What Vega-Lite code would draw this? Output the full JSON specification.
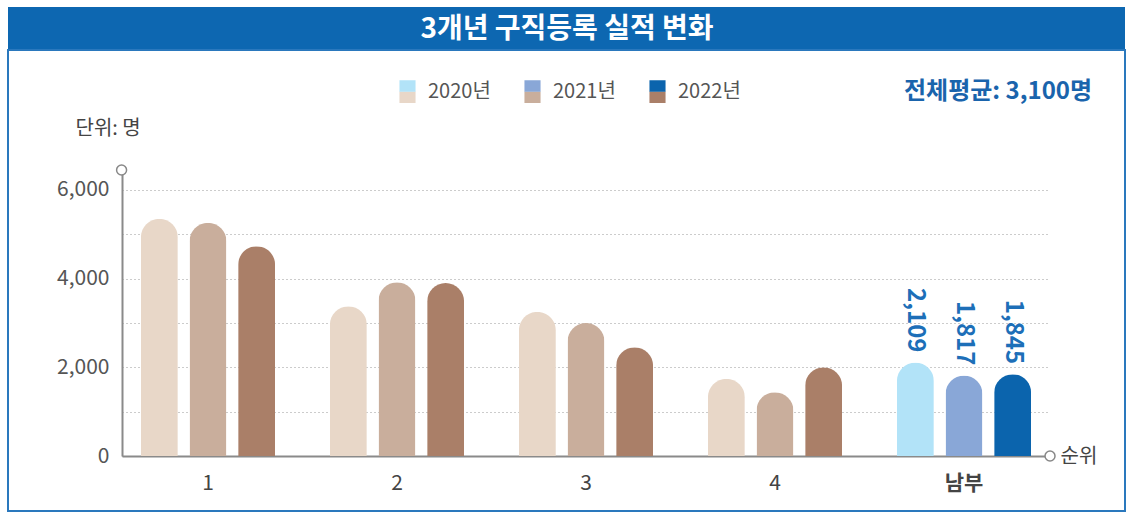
{
  "$schema": "https://vega.github.io/schema/vega-lite/v6.json",
  "autosize": "none",
  "padding": {"left": 122, "top": 170, "right": 77, "bottom": 58},
  "width": 928,
  "height": 286,
  "background": "white",
  "config": {"font": "Noto Sans CJK KR", "view": {"stroke": null}},
  "datasets": {
    "bars": [
      {"region": "1", "year": "2020년", "value": 5350},
      {"region": "1", "year": "2021년", "value": 5260},
      {"region": "1", "year": "2022년", "value": 4730},
      {"region": "2", "year": "2020년", "value": 3380},
      {"region": "2", "year": "2021년", "value": 3920},
      {"region": "2", "year": "2022년", "value": 3900},
      {"region": "3", "year": "2020년", "value": 3250},
      {"region": "3", "year": "2021년", "value": 3000},
      {"region": "3", "year": "2022년", "value": 2450},
      {"region": "4", "year": "2020년", "value": 1740},
      {"region": "4", "year": "2021년", "value": 1440},
      {"region": "4", "year": "2022년", "value": 2000},
      {"region": "남부", "year": "2020년", "value": 2109},
      {"region": "남부", "year": "2021년", "value": 1817},
      {"region": "남부", "year": "2022년", "value": 1845}
    ],
    "ends": [{"end": "axis"}]
  },
  "layer": [
    {
      "data": {"name": "bars"},
      "encoding": {
        "x": {
          "field": "region", "type": "nominal", "sort": ["1", "2", "3", "4", "남부"],
          "scale": {"paddingInner": 0.29, "paddingOuter": 0.1},
          "axis": {
            "labelAngle": 0, "labelFontSize": 21, "labelColor": "#444",
            "labelFontWeight": {"condition": {"test": "datum.value === '남부'", "value": "bold"}, "value": "normal"},
            "labelPadding": 16, "ticks": false, "domainColor": "#8a8a8a", "domainWidth": 2, "grid": false, "zindex": 0,
            "title": "순위", "titleAnchor": "end", "titleAlign": "left", "titleX": 938, "titleY": 0,
            "titleBaseline": "middle", "titleFontSize": 20, "titleFontWeight": "normal", "titleColor": "#444"
          }
        },
        "y": {
          "field": "value", "type": "quantitative",
          "scale": {"domain": [0, 6450], "nice": false},
          "axis": {
            "values": [0, 1000, 2000, 3000, 4000, 5000, 6000],
            "labelExpr": "datum.value % 2000 === 0 ? format(datum.value, ',') : ''",
            "labelFontSize": 21, "labelColor": "#555", "labelPadding": 13, "ticks": false,
            "domainColor": "#8a8a8a", "domainWidth": 2,
            "grid": true, "gridDash": [1, 3], "gridColor": "#999", "gridWidth": 1,
            "title": "단위: 명", "titleAngle": 0, "titleX": -47, "titleY": -42, "titleAlign": "left",
            "titleBaseline": "middle", "titleFontSize": 20, "titleFontWeight": "normal", "titleColor": "#444"
          }
        }
      },
      "layer": [
        {
          "transform": [{"filter": "datum.region !== '남부'"}],
          "mark": {"type": "bar", "cornerRadiusEnd": 18.5},
          "encoding": {
            "xOffset": {"field": "year", "type": "nominal", "scale": {"paddingInner": 0.24, "paddingOuter": 0}},
            "color": {
              "field": "year", "type": "nominal",
              "scale": {"domain": ["2020년", "2021년", "2022년"], "range": ["#e8d7c8", "#c9ae9c", "#aa7f68"]},
              "legend": {
                "orient": "none", "legendX": 274, "legendY": -90, "direction": "horizontal", "columns": 3, "padding": 0,
                "title": "전체평균: 3,100명", "titleOrient": "right", "titlePadding": 163, "titleAnchor": "middle", "titleBaseline": "middle", "titleLimit": 0,
                "titleFontSize": 24, "titleFontWeight": "bold", "titleColor": "#1a64ac",
                "symbolType": "M-0.7,0H0.7V1H-0.7Z", "symbolSize": 529, "symbolStrokeWidth": 0,
                "labelFontSize": 20, "labelColor": "#555", "labelOffset": 9, "columnPadding": 30
              }
            }
          }
        },
        {
          "transform": [{"filter": "datum.region === '남부'"}],
          "mark": {"type": "bar", "cornerRadiusEnd": 18.5},
          "encoding": {
            "xOffset": {"field": "year", "type": "nominal", "scale": {"paddingInner": 0.24, "paddingOuter": 0}},
            "color": {
              "field": "year", "type": "nominal",
              "scale": {"domain": ["2020년", "2021년", "2022년"], "range": ["#b2e3f8", "#89a7d7", "#0b64ad"]},
              "legend": {
                "orient": "none", "legendX": 274, "legendY": -90, "direction": "horizontal", "columns": 3, "padding": 0,
                "title": null, "symbolType": "M-0.7,-1H0.7V0H-0.7Z", "symbolSize": 529, "symbolStrokeWidth": 0,
                "labelFontSize": 20, "labelColor": "#555", "labelOffset": 9, "columnPadding": 30, "labelOpacity": 0
              }
            }
          }
        },
        {
          "transform": [{"filter": "datum.region === '남부'"}],
          "mark": {"type": "text", "angle": 90, "align": "right", "baseline": "middle", "dx": -10, "fontSize": 24, "fontWeight": "bold", "color": "#1d6fb8"},
          "encoding": {
            "xOffset": {"field": "year", "type": "nominal", "scale": {"paddingInner": 0.24, "paddingOuter": 0}},
            "text": {"field": "value", "type": "quantitative", "format": ","}
          }
        },
        {
          "mark": {"type": "point", "opacity": 0},
          "encoding": {
            "color": {
              "field": "value", "type": "quantitative",
              "scale": {"range": ["#0d67b1", "#0d67b1"]},
              "legend": {
                "type": "gradient", "orient": "none", "legendX": -114, "legendY": -154, "direction": "horizontal", "padding": 0,
                "gradientLength": 1117, "gradientThickness": 43, "gradientStrokeWidth": 0,
                "labelExpr": "''", "labelOpacity": 0, "title": "3개년 구직등록 실적 변화", "titleAnchor": "middle", "titleBaseline": "top", "titleLimit": 0,
                "titlePadding": -37, "titleFontSize": 28, "titleFontWeight": "bold", "titleColor": "white"
              }
            }
          }
        },
        {
          "mark": {"type": "point", "opacity": 0},
          "encoding": {
            "color": {
              "field": "value", "type": "quantitative",
              "scale": {"range": ["rgba(255,255,255,0)", "rgba(255,255,255,0)"]},
              "legend": {
                "type": "gradient", "orient": "none", "legendX": -114, "legendY": -120, "direction": "horizontal", "padding": 0,
                "gradientLength": 1117, "gradientThickness": 461, "gradientStrokeWidth": 2, "gradientStrokeColor": "#2a78bd",
                "labelExpr": "''", "labelOpacity": 0, "title": null
              }
            }
          }
        }
      ],
      "resolve": {"scale": {"color": "independent"}, "legend": {"color": "independent"}}
    },
    {
      "data": {"name": "ends"},
      "mark": {"type": "point", "shape": "circle", "size": 100, "filled": true, "fill": "white", "stroke": "#888", "strokeWidth": 1.5, "opacity": 1},
      "encoding": {
        "x": {"datum": "1", "bandPosition": -0.144},
        "y": {"datum": 6450}
      }
    },
    {
      "data": {"name": "ends"},
      "mark": {"type": "point", "shape": "circle", "size": 100, "filled": true, "fill": "white", "stroke": "#888", "strokeWidth": 1.5, "opacity": 1},
      "encoding": {
        "x": {"datum": "남부", "bandPosition": 1.141},
        "y": {"datum": 0}
      }
    }
  ],
  "resolve": {"scale": {"color": "independent"}, "legend": {"color": "independent"}}
}
